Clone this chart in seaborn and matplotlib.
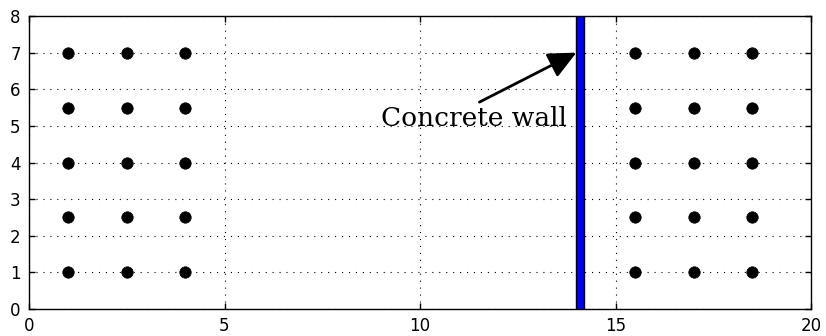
import matplotlib
matplotlib.use("Agg")
import matplotlib.pyplot as plt
import matplotlib.patches as mpatches
import seaborn as sns
import pandas as pd

sns.set_style("white")
plt.rcParams['font.family'] = ['DejaVu Sans']
plt.rcParams['text.color'] = 'black'

# Sensor grid positions on each side of the wall
left_x = [1, 2.5, 4]
right_x = [15.5, 17, 18.5]
row_y = [1, 2.5, 4, 5.5, 7]

# Wall position and thickness
wall_x = 14.0
wall_width = 0.2
wall_label = "Concrete wall"

xs, ys = [], []
for x in left_x + right_x:
    for y in row_y:
        xs.append(x)
        ys.append(y)
df = pd.DataFrame({"x": xs, "y": ys})

fig = plt.figure(figsize=(8.26, 3.36), dpi=100)
ax = fig.add_axes([29 / 826, 27 / 336, 782 / 826, 293 / 336])

sns.scatterplot(data=df, x="x", y="y", ax=ax, color="black", s=68,
                edgecolor="black", linewidth=0.5, zorder=3)

ax.add_patch(mpatches.Rectangle((wall_x, 0), wall_width, 8,
                                facecolor="#0000ff", edgecolor="black",
                                linewidth=1, zorder=4))

ax.annotate(wall_label, xy=(wall_x, 7), xytext=(9, 5),
            fontsize=19, family="DejaVu Serif", color="black",
            arrowprops=dict(arrowstyle="-|>,head_length=0.85,head_width=0.4",
                            mutation_scale=20, lw=2, color="black",
                            relpos=(0.53, 1.15), shrinkA=0, shrinkB=0))

ax.set_xlim(0, 20)
ax.set_ylim(0, 8)
ax.set_xticks([0, 5, 10, 15, 20])
ax.set_yticks(range(0, 9))
ax.set_xlabel("")
ax.set_ylabel("")
ax.grid(True, color="black", linestyle=(0, (1, 5.25)), linewidth=0.8)
ax.set_axisbelow(True)
for s in ax.spines.values():
    s.set_color("black")
    s.set_linewidth(1)
ax.tick_params(direction="in", length=4, width=1, labelsize=12, colors="black",
               top=True, right=True, bottom=True, left=True, pad=6)

fig.savefig("out.png", dpi=100)
